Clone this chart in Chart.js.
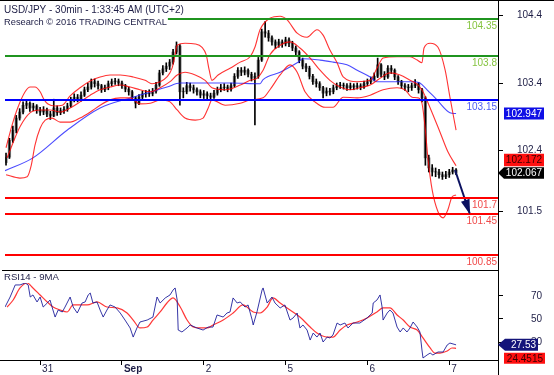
<!DOCTYPE html>
<html><head><meta charset="utf-8">
<script src="https://cdn.jsdelivr.net/npm/chart.js@4.4.0/dist/chart.umd.min.js"></script>
<style>
html,body{margin:0;padding:0;background:#fff;width:554px;height:375px;overflow:hidden}
canvas{position:absolute;left:0}
#p{top:0}
#r{top:270px}
</style></head><body>
<canvas id="p" width="554" height="270"></canvas>
<canvas id="r" width="554" height="105"></canvas>
<script>
// ---------- DATA ----------
const titleLines = ['USD/JPY - 30min - 1:33:45 AM (UTC+2)', 'Research \u00a9 2016 TRADING CENTRAL'];
const rsiTitle = 'RSI14 - 9MA';
const xTickHours = [0, 24, 48, 72, 96, 120];
const xTickLabels = ['31', 'Sep', '2', '5', '6', '7'];
const priceTicks = [104.4, 103.4, 102.4, 101.5];
const rsiTicks = [70, 50, 30];
const resistanceLevels = [104.35, 103.8];
const pivotLevels = [103.15];
const supportLevels = [101.7, 101.45, 100.85];

const firstHour = -10;
const firstOpen = 102.22;
const closes = [
102.30,102.55,102.70,102.88,102.97,103.07,103.10,103.03,103.06,103.00,
102.97,103.00,102.94,102.91,103.03,102.96,102.99,103.01,103.06,103.15,
103.19,103.16,103.22,103.30,103.34,103.42,103.39,103.36,103.30,103.33,
103.39,103.42,103.43,103.40,103.36,103.31,103.27,103.18,103.10,103.19,
103.24,103.25,103.24,103.28,103.37,103.55,103.61,103.65,103.71,103.86,
103.95,103.27,103.27,103.36,103.33,103.30,103.27,103.22,103.24,103.21,
103.19,103.25,103.30,103.33,103.34,103.31,103.36,103.50,103.59,103.56,
103.59,103.53,103.47,103.50,103.74,104.16,104.14,104.07,104.01,103.96,
104.01,103.98,104.04,103.99,103.92,103.86,103.74,103.65,103.62,103.50,
103.42,103.39,103.33,103.25,103.28,103.27,103.33,103.36,103.37,103.36,
103.33,103.36,103.34,103.36,103.34,103.39,103.42,103.45,103.50,103.67,
103.53,103.49,103.62,103.59,103.49,103.42,103.36,103.34,103.33,103.36,
103.39,103.30,103.18,102.29,102.14,102.08,102.08,102.04,102.01,102.04,
102.08,102.11,102.067];
const highs = [
102.36,102.58,102.76,102.92,103.02,103.12,103.15,103.12,103.10,103.08,
103.04,103.05,103.03,102.98,103.16,103.06,103.03,103.05,103.10,103.19,
103.24,103.23,103.27,103.34,103.40,103.46,103.46,103.43,103.38,103.37,
103.43,103.46,103.47,103.46,103.43,103.38,103.34,103.29,103.20,103.23,
103.28,103.29,103.30,103.32,103.41,103.59,103.66,103.70,103.75,103.90,
104.01,103.97,103.33,103.41,103.40,103.37,103.33,103.30,103.29,103.27,
103.25,103.29,103.34,103.38,103.39,103.37,103.40,103.54,103.63,103.63,
103.64,103.61,103.56,103.55,103.78,104.20,104.31,104.18,104.10,104.04,
104.05,104.04,104.08,104.07,104.02,103.95,103.88,103.77,103.69,103.65,
103.53,103.46,103.42,103.35,103.33,103.32,103.37,103.40,103.41,103.40,
103.39,103.40,103.39,103.40,103.39,103.43,103.46,103.49,103.55,103.77,
103.69,103.57,103.66,103.66,103.61,103.51,103.44,103.39,103.38,103.40,
103.45,103.41,103.32,103.20,102.33,102.19,102.14,102.12,102.08,102.09,
102.12,102.15,102.13];
const lows = [
102.18,102.28,102.52,102.66,102.85,102.94,103.02,102.98,102.99,102.95,
102.92,102.93,102.90,102.86,102.90,102.92,102.93,102.95,102.98,103.04,
103.12,103.12,103.13,103.20,103.27,103.31,103.34,103.31,103.26,103.27,
103.30,103.36,103.38,103.36,103.32,103.27,103.22,103.14,103.03,103.08,
103.16,103.19,103.20,103.21,103.25,103.35,103.52,103.57,103.60,103.68,
103.83,103.07,103.18,103.24,103.28,103.25,103.22,103.18,103.17,103.16,
103.14,103.17,103.22,103.27,103.29,103.27,103.28,103.34,103.47,103.51,
103.52,103.49,103.43,102.78,103.47,103.72,104.08,104.02,103.96,103.91,
103.93,103.93,103.95,103.94,103.88,103.81,103.70,103.61,103.57,103.46,
103.38,103.34,103.29,103.18,103.21,103.22,103.24,103.30,103.32,103.31,
103.29,103.30,103.30,103.31,103.30,103.32,103.36,103.39,103.43,103.48,
103.49,103.45,103.47,103.54,103.45,103.38,103.32,103.29,103.27,103.29,
103.33,103.25,103.12,102.18,102.08,102.02,102.01,101.99,101.97,101.98,
102.00,102.05,102.04];

const upperBand = [[-10.0,102.44],[-8.2,102.78],[-6.5,103.04],[-4.4,103.27],[-2.9,103.34],[-1.5,103.34],[0,103.27],[1.2,103.15],[2.3,103.09],[4.4,103.06],[6.5,103.07],[8.8,103.21],[11.7,103.33],[14.7,103.43],[17.6,103.49],[20.5,103.52],[23.5,103.52],[27.3,103.49],[30.8,103.44],[32.8,103.39],[35.2,103.42],[37.2,103.49],[38.7,103.62],[39.6,103.82],[40.2,103.96],[42.5,103.99],[45.5,103.98],[47.5,103.93],[48.7,103.82],[49.6,103.59],[50.4,103.44],[52.2,103.52],[55.7,103.62],[58.7,103.71],[61.6,103.79],[63.0,103.93],[64.5,104.19],[67.4,104.36],[70.4,104.39],[72.4,104.34],[75.4,104.14],[78.3,104.08],[81.2,104.19],[83.0,104.11],[85.0,103.89],[87.1,103.70],[88.9,103.49],[93.0,103.42],[96.8,103.44],[98.8,103.62],[100.6,103.77],[104.7,103.79],[108.5,103.79],[110.6,103.74],[112.0,103.70],[112.6,103.92],[114.4,103.99],[116.7,103.93],[118.8,103.59],[120.2,103.19],[122.0,102.70]];
const middleBand = [[-9.7,102.29],[-5.9,102.75],[-2.9,102.96],[0,103.00],[2.9,103.00],[5.9,102.97],[8.8,103.03],[11.7,103.12],[14.7,103.22],[17.6,103.30],[20.5,103.34],[23.5,103.37],[26.4,103.34],[29.3,103.30],[32.3,103.27],[35.2,103.33],[38.1,103.42],[40.2,103.52],[42.5,103.56],[45.5,103.52],[48.4,103.44],[50.4,103.33],[54.3,103.30],[58.7,103.37],[61.6,103.44],[63.6,103.47],[65.4,103.59],[67.4,103.82],[70.4,103.96],[73.3,104.01],[76.2,103.92],[79.2,103.77],[82.1,103.59],[85.0,103.44],[88.0,103.34],[90.9,103.30],[93.8,103.33],[96.8,103.37],[99.7,103.47],[102.6,103.55],[105.6,103.52],[108.5,103.44],[110.9,103.37],[112.3,103.27],[114.4,103.03],[117.3,102.67],[119.6,102.38],[122.0,102.172]];
const lowerBand = [[-10.0,102.04],[-5.9,101.99],[-3.8,102.01],[-2.6,102.18],[-1.5,102.48],[0,102.73],[1.5,102.85],[3.5,102.88],[5.9,102.82],[8.8,102.82],[11.7,102.88],[14.7,102.97],[17.6,103.07],[20.5,103.15],[23.5,103.18],[26.4,103.18],[29.3,103.09],[32.3,103.10],[35.2,103.15],[38.1,103.12],[40.2,103.00],[42.5,102.88],[45.5,102.85],[47.8,102.88],[49.3,103.03],[50.4,103.15],[54.3,103.07],[58.7,103.10],[61.6,103.15],[65.4,103.18],[67.4,103.30],[70.4,103.52],[73.3,103.67],[75.4,103.56],[77.7,103.27],[80.6,103.12],[83.6,103.04],[85.9,103.04],[88.9,103.19],[93.0,103.18],[96.8,103.22],[100.6,103.30],[104.7,103.33],[107.0,103.30],[109.1,103.19],[110.9,103.18],[112.0,103.10],[112.9,102.75],[113.8,102.26],[115.0,101.81],[116.7,101.49],[118.2,101.40],[119.6,101.52],[120.8,101.71],[122.0,101.74]];
const movingAverage = [[-10.3,102.10],[-2.1,102.29],[7.9,102.70],[17.6,103.03],[27.3,103.19],[37.2,103.34],[41.1,103.40],[46.9,103.40],[55.7,103.40],[64.5,103.39],[65.4,103.45],[70.4,103.56],[75.4,103.70],[77.1,103.76],[82.1,103.74],[85.9,103.71],[90.0,103.67],[93.0,103.59],[96.8,103.49],[98.8,103.42],[102.6,103.42],[109.4,103.42],[111.4,103.40],[113.5,103.30],[116.4,103.15],[120.2,102.96],[122.0,102.947]];
const forecastArrow = [[121.7,102.11],[126.1,101.45]];

const rsi14 = [[-10.3,60.4],[-8.8,69.1],[-7.3,79.6],[-5.9,79.6],[-4.4,81.3],[-3.5,79.6],[-2.9,69.1],[-2.1,70.9],[-0.9,64.8],[0,69.1],[0.9,60.4],[2.1,63.9],[2.9,66.5],[3.5,60.4],[4.4,51.7],[5.3,57.8],[6.5,56.1],[7.3,60.4],[8.8,69.1],[9.7,60.4],[10.9,55.2],[12.3,63.9],[13.2,64.8],[14.1,70.9],[14.7,72.6],[15.5,63.9],[16.7,64.8],[17.6,57.8],[18.5,51.7],[19.6,57.8],[20.5,62.2],[22.0,60.4],[23.5,55.2],[24.9,49.1],[26.4,42.2],[27.3,34.3],[28.4,42.2],[29.3,47.4],[31.4,49.1],[33.1,51.7],[34.3,69.1],[35.2,63.9],[36.7,68.3],[38.1,70.9],[39.0,75.2],[39.6,77.0],[40.2,66.5],[40.5,40.4],[41.6,38.7],[43.1,42.2],[44.0,44.8],[46.0,42.2],[47.8,40.4],[49.3,43.0],[50.7,43.0],[51.9,53.5],[53.7,51.7],[54.8,55.2],[55.7,56.1],[56.6,68.3],[57.8,63.9],[58.7,64.8],[60.1,60.4],[61.0,62.2],[62.2,49.1],[62.5,44.8],[63.6,56.1],[65.1,75.2],[65.4,77.0],[66.6,63.9],[68.0,69.1],[68.9,63.9],[70.4,59.6],[71.8,62.2],[73.3,49.1],[74.2,50.9],[75.4,55.2],[76.2,42.2],[77.1,44.8],[78.3,40.4],[79.2,31.7],[80.1,37.8],[81.2,34.3],[82.1,37.8],[83.0,30.0],[84.2,34.3],[85.0,33.5],[85.9,36.1],[87.1,46.5],[88.0,44.8],[89.4,46.5],[90.3,42.2],[91.8,46.5],[93.8,46.5],[95.9,50.9],[97.4,55.2],[97.7,63.9],[98.8,66.5],[99.7,70.9],[100.3,60.4],[100.6,49.1],[101.8,55.2],[102.6,57.8],[103.5,55.2],[104.7,43.0],[105.6,38.7],[106.5,42.2],[107.6,38.7],[108.5,42.2],[109.4,47.4],[110.6,43.0],[111.4,38.7],[112.0,23.0],[112.3,16.1],[113.5,18.7],[114.4,20.4],[115.2,18.7],[116.7,21.3],[118.2,21.3],[119.4,27.4],[120.2,29.1],[122.0,27.53]];
const rsiMA9 = [[-9.7,60.4],[-7.9,66.5],[-5.9,77.0],[-3.8,81.3],[-2.1,77.0],[0,70.9],[2.1,64.8],[3.8,60.4],[5.9,57.8],[7.9,56.1],[9.7,62.2],[13.8,62.2],[16.7,64.8],[19.6,60.4],[22.6,59.6],[25.5,55.2],[27.3,49.1],[29.3,42.2],[31.4,43.0],[33.1,49.1],[35.2,56.1],[37.2,63.9],[39.0,68.3],[41.1,60.4],[43.1,49.1],[44.9,43.0],[46.9,42.2],[49.0,42.2],[50.7,44.8],[53.7,49.1],[56.6,55.2],[59.5,62.2],[62.5,56.1],[64.5,55.2],[66.6,60.4],[68.3,68.3],[70.4,63.9],[73.3,57.8],[76.2,51.7],[79.2,43.0],[81.2,37.8],[84.2,34.3],[85.9,34.3],[88.0,40.4],[90.0,44.8],[93.0,47.4],[95.9,50.9],[98.8,56.1],[100.6,59.6],[102.6,59.6],[104.7,53.5],[106.5,49.1],[108.5,43.0],[110.6,40.4],[112.3,33.5],[114.4,24.8],[115.8,20.4],[117.3,20.4],[119.4,22.2],[120.8,24.8],[122.0,24.4515]];

// ---------- CHART ----------
const FF = "'Liberation Sans', Arial, sans-serif";
const X_MIN = -10.3, X_MAX = 134.3;
const TXT = '#1d1d45';
const pts = arr => arr.map(([x, y]) => ({x, y}));
const last = arr => arr[arr.length - 1][1];

const candleHours = closes.map((_, i) => firstHour + i);
const opens = closes.map((c, i) => i === 0 ? firstOpen : closes[i - 1]);
const wickData = candleHours.map((h, i) => ({x: h, y: [lows[i], highs[i]]}));
const bodyData = candleHours.map((h, i) => {
  const a = Math.min(opens[i], closes[i]), b = Math.max(opens[i], closes[i]);
  return {x: h, y: [a, b === a ? a + 0.005 : b]};
});

function noPad(s) { s.paddingTop = 0; s.paddingBottom = 0; s.paddingLeft = 0; s.paddingRight = 0; }

function drawBox(ctx, x1, x2, yc, h, bg, fg, text, tipX) {
  ctx.fillStyle = bg;
  ctx.beginPath();
  if (tipX !== undefined) {
    ctx.moveTo(tipX, yc);
    ctx.lineTo(x1, yc - h / 2); ctx.lineTo(x2, yc - h / 2);
    ctx.lineTo(x2, yc + h / 2); ctx.lineTo(x1, yc + h / 2);
    ctx.closePath();
  } else ctx.rect(x1, yc - h / 2, x2 - x1, h);
  ctx.fill();
  ctx.fillStyle = fg;
  ctx.font = '10px ' + FF;
  ctx.textAlign = 'right'; ctx.textBaseline = 'middle';
  ctx.fillText(text, x2 - 2, yc + 0.5);
}
function drawTitle(ctx, text, x, yc, size) {
  ctx.font = size + 'px ' + FF;
  const w = ctx.measureText(text).width;
  ctx.fillStyle = '#fff';
  ctx.fillRect(x - 1, yc - 6, w + 2, 12);
  ctx.fillStyle = TXT; ctx.textAlign = 'left'; ctx.textBaseline = 'middle';
  ctx.fillText(text, x, yc);
}

const pricePlugin = {
  id: 'pricePlugin',
  afterDatasetsDraw(chart) {
    const {ctx, chartArea: a, scales: {y}} = chart;
    ctx.save();
    const groups = [[resistanceLevels, '#1f941f', '#86c440'], [pivotLevels, '#0000ff', '#4d5cf5'], [supportLevels, '#ff0000', '#f04a4a']];
    ctx.font = '10px ' + FF; ctx.textAlign = 'right'; ctx.textBaseline = 'top';
    for (const [vals, lc, tc] of groups) for (const v of vals) {
      const py = Math.round(y.getPixelForValue(v));
      ctx.strokeStyle = lc; ctx.lineWidth = 2;
      ctx.beginPath(); ctx.moveTo(a.left, py); ctx.lineTo(a.right, py); ctx.stroke();
      ctx.fillStyle = tc; ctx.fillText(String(v), a.right - 1, py + 2);
    }
    const meta = chart.getDatasetMeta(chart.data.datasets.length - 1);
    const p0 = meta.data[0], p1 = meta.data[1];
    const dx = p1.x - p0.x, dy = p1.y - p0.y, L = Math.hypot(dx, dy);
    const ux = dx / L, uy = dy / L, hl = 15, hw = 4.5;
    ctx.fillStyle = '#0b1160';
    ctx.beginPath();
    ctx.moveTo(p1.x, p1.y);
    ctx.lineTo(p1.x - ux * hl - uy * hw, p1.y - uy * hl + ux * hw);
    ctx.lineTo(p1.x - ux * hl + uy * hw, p1.y - uy * hl - ux * hw);
    ctx.closePath(); ctx.fill();
    ctx.restore();
  },
  afterDraw(chart) {
    const {ctx, chartArea: a, scales: {y}} = chart;
    ctx.save();
    const R = a.right;
    const yMA = y.getPixelForValue(last(movingAverage));
    drawBox(ctx, R + 6, R + 46, yMA, 12, '#0f0fe6', '#fff', String(last(movingAverage)));
    const yC = y.getPixelForValue(closes[closes.length - 1]);
    let yM = y.getPixelForValue(last(middleBand));
    if (Math.abs(yM - yC) < 13) yM = yC - 13;
    drawBox(ctx, R + 6, R + 46, yM, 12.5, '#ff1010', '#3a0000', String(last(middleBand)));
    drawBox(ctx, R + 6, R + 46, yC, 11.5, '#000', '#fff', String(closes[closes.length - 1]), R);
    ctx.strokeStyle = '#000'; ctx.lineWidth = 1;
    ctx.beginPath();
    ctx.moveTo(0, 0.5); ctx.lineTo(554, 0.5);
    ctx.moveTo(R + 0.5, 0); ctx.lineTo(R + 0.5, 270);
    ctx.stroke();
    drawTitle(ctx, titleLines[0], 4, 10, 10);
    drawTitle(ctx, titleLines[1], 4, 22, 9.3);
    ctx.restore();
  }
};

const lineDs = (label, data, color, w, order) => ({
  type: 'line', label, data: pts(data), borderColor: color, borderWidth: w,
  pointRadius: 0, cubicInterpolationMode: 'monotone', fill: false, order
});

new Chart(document.getElementById('p'), {
  type: 'line',
  data: {
    datasets: [
      lineDs('Upper', upperBand, 'rgba(255,0,0,0.8)', 1.1, 0),
      lineDs('Middle', middleBand, 'rgba(255,0,0,0.8)', 1.1, 0),
      lineDs('Lower', lowerBand, 'rgba(255,0,0,0.8)', 1.1, 0),
      lineDs('MA', movingAverage, 'rgba(30,30,255,0.8)', 1.1, 0),
      {type: 'bar', label: 'HL', data: wickData, backgroundColor: '#000', barThickness: 1, grouped: false, order: 1},
      {type: 'bar', label: 'OC', data: bodyData, backgroundColor: '#8a8a8a', barThickness: 2.6, grouped: false, order: 2},
      {type: 'line', label: 'Arrow', data: pts(forecastArrow), borderColor: '#0b1160', borderWidth: 2, pointRadius: 0, order: 0, clip: false}
    ]
  },
  options: {
    responsive: false, animation: false,
    layout: {padding: {left: 5, right: 12, top: 2, bottom: 2}},
    plugins: {legend: {display: false}, tooltip: {enabled: false}},
    scales: {
      x: {type: 'linear', min: X_MIN, max: X_MAX, display: false, offset: false, afterFit: noPad},
      y: {
        position: 'right', min: 100.656, max: 104.602,
        afterBuildTicks: s => { s.ticks = priceTicks.map(v => ({value: v})); },
        afterFit: s => { s.width = 44; noPad(s); },
        ticks: {callback: v => Number(v).toFixed(1), color: TXT, font: {family: FF, size: 10}, padding: 14, crossAlign: 'far'},
        grid: {drawOnChartArea: false, drawTicks: true, tickLength: 5, tickColor: '#000', color: '#000'},
        border: {display: true, color: '#000', width: 1}
      }
    }
  },
  plugins: [pricePlugin]
});

const rsiPlugin = {
  id: 'rsiPlugin',
  afterDraw(chart) {
    const {ctx, chartArea: a, scales: {y}} = chart;
    ctx.save();
    ctx.strokeStyle = '#000'; ctx.lineWidth = 1;
    ctx.beginPath();
    ctx.moveTo(2, 0.5); ctx.lineTo(a.right, 0.5);
    ctx.moveTo(a.right + 0.5, 0); ctx.lineTo(a.right + 0.5, 105);
    ctx.moveTo(0, a.bottom + 0.5); ctx.lineTo(a.left + 1, a.bottom + 0.5);
    ctx.stroke();
    drawTitle(ctx, rsiTitle, 4, 7, 9.6);
    const R = a.right;
    const yR = y.getPixelForValue(last(rsi14));
    drawBox(ctx, R + 7, R + 40, yR, 12, '#14147a', '#fff', String(last(rsi14)), R);
    let yMa = y.getPixelForValue(last(rsiMA9));
    if (yMa - yR < 13) yMa = yR + 13.5;
    drawBox(ctx, R + 6, R + 47, yMa, 11, '#ff1010', '#3a0000', String(last(rsiMA9)));
    ctx.restore();
  }
};

new Chart(document.getElementById('r'), {
  type: 'line',
  data: {
    datasets: [
      lineDs('MA9', rsiMA9, 'rgba(255,20,20,0.85)', 1.2, 1),
      {type: 'line', label: 'RSI14', data: pts(rsi14), borderColor: 'rgba(20,20,150,0.85)', borderWidth: 1, pointRadius: 0, tension: 0, order: 0}
    ]
  },
  options: {
    responsive: false, animation: false,
    layout: {padding: {left: 5, right: 12, top: 0, bottom: 0}},
    plugins: {legend: {display: false}, tooltip: {enabled: false}},
    scales: {
      x: {
        type: 'linear', min: X_MIN, max: X_MAX, offset: false,
        afterBuildTicks: s => { s.ticks = xTickHours.map(v => ({value: v})); },
        afterFit: s => { s.height = 15; noPad(s); },
        ticks: {
          callback: (v) => xTickLabels[xTickHours.indexOf(v)],
          color: TXT, align: 'start', labelOffset: 2, padding: -2, maxRotation: 0, autoSkip: false,
          font: c => ({family: FF, size: 10, weight: xTickLabels[c.index] === 'Sep' ? 'bold' : 'normal'})
        },
        grid: {drawOnChartArea: false, drawTicks: true, tickLength: 5, tickColor: '#000', color: '#000'},
        border: {display: true, color: '#000', width: 1}
      },
      y: {
        position: 'right', min: 14.35, max: 92.6,
        afterBuildTicks: s => { s.ticks = rsiTicks.map(v => ({value: v})); },
        afterFit: s => { s.width = 44; noPad(s); },
        ticks: {callback: v => String(v), color: TXT, font: {family: FF, size: 10}, padding: 28, crossAlign: 'far'},
        grid: {drawOnChartArea: false, drawTicks: true, tickLength: 5, tickColor: '#000', color: '#000'},
        border: {display: true, color: '#000', width: 1}
      }
    }
  },
  plugins: [rsiPlugin]
});
</script></body></html>
